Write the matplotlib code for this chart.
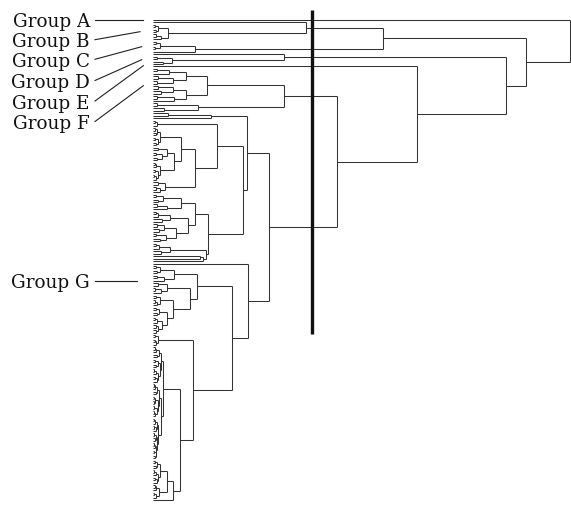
import matplotlib
matplotlib.use("Agg")
import matplotlib.pyplot as plt
from matplotlib.collections import LineCollection

# tree data: a node is (merge height, upper child, lower child), a leaf is 0
# merge heights are given in percent of the root distance

group_a = 0
group_b = (36.7, 0, (3.6, (1.2, (0.5, 0, 0), (0.8, 0, 0)), (1.9, (0.6, 0, 0), 0)))
group_c = (10.1, (1.7, (0.7, 0, 0), (0.5, 0, 0)), 0)
group_d = (31.4, 0, (4.6, (1.0, 0, 0), (2.4, 0, 0)))
group_e = 0
group_f = (31.4,
           (12.9,
            (7.9, (3.8, (1.0, 0, 0), 0), (4.8, (1.2, 0, 0), (0.9, 0, 0))),
            (7.9, (4.8, (1.2, 0, 0), (2.0, 0, 0)), (5.0, (1.0, 0, 0), 0))),
           (10.8, (0.9, 0, 0), (2.6, 0, 0)))

# group G, upper half
g_top = (13.9, (3.6, 0, 0), 0)
g_small = (1.0, (0.5, 0, 0), 0)
g_181a = (1.7, (1.0, (0.5, 0, 0), (0.6, 0, 0)), (1.2, (0.4, 0, 0), (0.8, 0, 0)))
g_174a = (3.4, (1.2, 0, 0), (2.2, (0.6, 0, 0), (0.9, 0, 0)))
g_174b = (1.7, (0.8, (0.4, 0, 0), 0), (1.1, (0.5, 0, 0), (0.7, (0.3, 0, 0), 0)))
g_165 = (2.9, (1.2, 0, 0), (1.7, (0.6, 0, 0), 0))
g_195b = (10.1,
          (6.7, (2.4, (0.8, 0, 0), (1.2, 0, 0)), (3.4, (1.0, 0, 0), 0)),
          (8.4, (4.1, (1.2, (0.6, 0, 0), 0), (2.2, 0, 0)),
           (5.5, (2.6, (1.0, 0, 0), (1.4, 0, 0)), (3.1, (0.8, 0, 0), (1.7, 0, 0)))))
g_208b = (12.6, (4.1, (1.4, (0.6, 0, 0), 0), (2.0, 0, 0)), (12.0, (11.3, 0, 0), 0))

# group G, lower half
g_174c = (5.0, (1.7, (0.6, 0, 0), (0.9, 0, 0)), (2.6, (1.0, 0, 0), 0))
g_190a = (3.4, (1.2, 0, 0), (1.8, (0.5, 0, 0), 0))
g_173a = (1.7, (0.7, 0, 0), (1.0, (0.4, 0, 0), 0))
g_173b = (3.4, (1.4, (0.6, 0, 0), (0.9, 0, 0)),
          (2.2, (1.0, (0.5, 0, 0), 0), (1.2, (0.6, 0, 0), (0.8, 0, 0))))
g_346 = (1.2, (0.5, 0, 0), (0.8, (0.4, 0, 0), 0))
g_163a = (1.9, (1.4, (0.8, (0.4, 0, 0), 0), (1.0, 0, 0)),
          (1.6, (1.1, (0.5, 0, 0), (0.7, 0, 0)),
           (1.2, (0.6, (0.3, 0, 0), 0), (0.9, (0.4, 0, 0), 0))))
g_163b = (1.5, (1.0, (0.4, (0.2, 0, 0), 0), (0.6, 0, 0)),
          (1.3, (0.5, (0.2, 0, 0), (0.3, 0, 0)), (0.9, (0.3, 0, 0), (0.5, (0.2, 0, 0), 0))))
g_163c = (1.2, (0.9, (0.5, (0.2, 0, 0), 0), (0.7, (0.3, 0, 0), 0)),
          (1.0, (0.6, (0.3, 0, 0), (0.4, 0, 0)),
           (0.8, (0.4, (0.2, 0, 0), 0), (0.6, (0.3, 0, 0), (0.5, 0, 0)))))
g_166a = (1.7, (1.0, (0.5, 0, 0), (0.7, 0, 0)), (1.2, (0.6, (0.3, 0, 0), 0), (0.9, (0.4, 0, 0), 0)))
g_166b = (1.4, (0.8, (0.4, 0, 0), 0), (0.6, (0.3, 0, 0), 0))

# upper level merges
g_upper = (22.5, g_top,
           (21.6,
            (15.3, g_small, (10.1, (6.7, g_181a, (5.0, g_174a, g_174b)), g_165)),
            (13.2, g_195b, g_208b)))
g_lower = (22.8, 0,
           (18.9,
            (10.6, g_174c, (8.9, g_190a, (4.8, g_173a, g_173b))),
            (9.6, g_346,
             (6.5, (2.4, g_163a, (1.9, g_163b, g_163c)),
              (4.8, (3.4, g_166a, g_166b), 0)))))
group_g = (27.8, g_upper, g_lower)

tree = (100.0, group_a,
        (89.4, (55.2, group_b, group_c),
         (84.7, group_d,
          (63.3, group_e, (44.1, group_f, group_g)))))

cut_level = 38.1           # cutting line through the tree
cut_span = (-3.9, 127.6)   # leaf rows covered by the cutting line

group_names = ["Group A", "Group B", "Group C", "Group D", "Group E", "Group F", "Group G"]

# ---- layout
segs = []
row = [0]


def walk(node):
    if not isinstance(node, tuple):
        y = row[0]
        row[0] += 1
        return y, 0.0
    h, up, low = node
    ya, ha = walk(up)
    yb, hb = walk(low)
    segs.append([(ha, ya), (h, ya)])
    segs.append([(hb, yb), (h, yb)])
    segs.append([(h, ya), (h, yb)])
    return (ya + yb) / 2, h


walk(tree)
n_leaves = row[0]

W, H = 571, 506
fig = plt.figure(figsize=(W / 100, H / 100), dpi=100)
fig.patch.set_facecolor("white")

ax = fig.add_axes([153 / W, (H - 501) / H, 417 / W, (501 - 20.7) / H])
ax.add_collection(LineCollection(segs, colors="#333333", linewidths=0.75,
                                 clip_on=False, capstyle="butt"))
ax.plot([cut_level, cut_level], cut_span, color="#111111", lw=2.4,
        solid_capstyle="butt", clip_on=False)
ax.set_xlim(0, 100)
ax.set_ylim(n_leaves - 1, 0)
ax.axis("off")

# labels with leader lines, placed in pixel coordinates of the figure
lab = fig.add_axes([0, 0, 1, 1])
lab.set_xlim(0, W)
lab.set_ylim(H, 0)
lab.axis("off")
lab.patch.set_alpha(0)

text_y = [20.7, 40.7, 60.3, 81.5, 102.0, 122.5, 281.7]
tip = [(143, 20.7), (140, 32.7), (141.7, 47.7), (141.7, 60.7), (143.3, 66.7),
       (143.3, 86.7), (136.7, 281.7)]
for name, ty, (tx, tyy) in zip(group_names, text_y, tip):
    lab.text(90, ty + 6.5, name, ha="right", va="baseline", family="DejaVu Serif",
             fontsize=13.2, color="#111111")
    lab.plot([95, tx], [ty, tyy], color="#222222", lw=0.8)

fig.savefig("out.png", dpi=100, facecolor="white")
